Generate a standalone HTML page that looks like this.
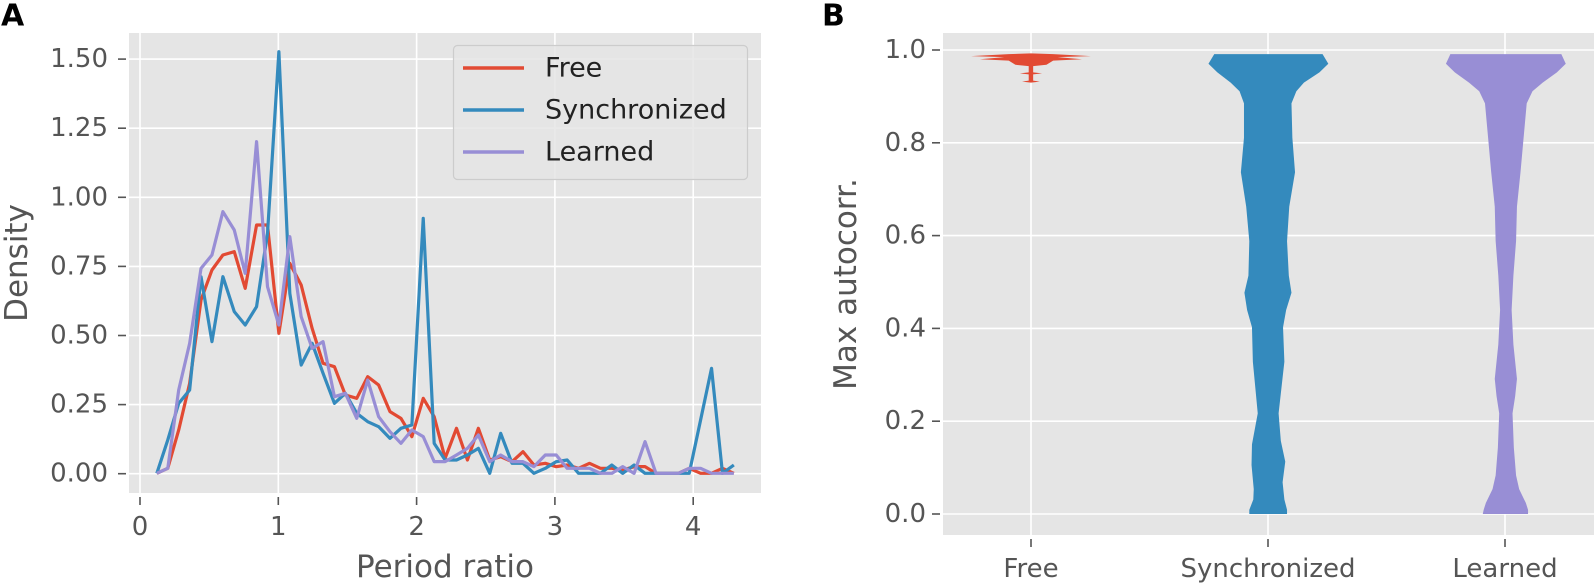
<!DOCTYPE html>
<html><head><meta charset="utf-8"><style>
html,body{margin:0;padding:0;background:#fff;}
svg{display:block;font-family:"DejaVu Sans","Liberation Sans",sans-serif;}
</style></head><body>
<svg width="1596" height="585" viewBox="0 0 1596 585" xmlns="http://www.w3.org/2000/svg">
<!-- Panel A -->
<rect x="129" y="33" width="632" height="460" fill="#e5e5e5"/>
<g stroke="#fff" stroke-width="1.6">
<line x1="140" y1="33" x2="140" y2="493"/><line x1="278.3" y1="33" x2="278.3" y2="493"/><line x1="416.6" y1="33" x2="416.6" y2="493"/><line x1="554.9" y1="33" x2="554.9" y2="493"/><line x1="693.2" y1="33" x2="693.2" y2="493"/>
<line x1="129" y1="473.7" x2="761" y2="473.7"/><line x1="129" y1="404.6" x2="761" y2="404.6"/><line x1="129" y1="335.5" x2="761" y2="335.5"/><line x1="129" y1="266.4" x2="761" y2="266.4"/><line x1="129" y1="197.3" x2="761" y2="197.3"/><line x1="129" y1="128.2" x2="761" y2="128.2"/><line x1="129" y1="59.1" x2="761" y2="59.1"/>
</g>
<g stroke="#555" stroke-width="1.6">
<line x1="118" y1="473.7" x2="126" y2="473.7"/><line x1="118" y1="404.6" x2="126" y2="404.6"/><line x1="118" y1="335.5" x2="126" y2="335.5"/><line x1="118" y1="266.4" x2="126" y2="266.4"/><line x1="118" y1="197.3" x2="126" y2="197.3"/><line x1="118" y1="128.2" x2="126" y2="128.2"/><line x1="118" y1="59.1" x2="126" y2="59.1"/>
<line x1="140" y1="497" x2="140" y2="505"/><line x1="278.3" y1="497" x2="278.3" y2="505"/><line x1="416.6" y1="497" x2="416.6" y2="505"/><line x1="554.9" y1="497" x2="554.9" y2="505"/><line x1="693.2" y1="497" x2="693.2" y2="505"/>
</g>
<g fill="#555" font-size="26" text-anchor="end" dominant-baseline="central">
<text x="108" y="473.7">0.00</text><text x="108" y="404.6">0.25</text><text x="108" y="335.5">0.50</text><text x="108" y="266.4">0.75</text><text x="108" y="197.3">1.00</text><text x="108" y="128.2">1.25</text><text x="108" y="59.1">1.50</text>
</g>
<g fill="#555" font-size="26" text-anchor="middle" dominant-baseline="central">
<text x="140" y="527">0</text><text x="278.3" y="527">1</text><text x="416.6" y="527">2</text><text x="554.9" y="527">3</text><text x="693.2" y="527">4</text>
</g>
<text x="445" y="567" fill="#555" font-size="31" text-anchor="middle" dominant-baseline="central">Period ratio</text>
<text transform="translate(17,263) rotate(-90)" fill="#555" font-size="31" text-anchor="middle" dominant-baseline="central">Density</text>
<g transform="translate(100,0) scale(0.42088,0.33333)" fill="none" stroke-width="3.2" stroke-linejoin="round">
<polyline vector-effect="non-scaling-stroke" stroke="#E24A33" points="135,1420 161,1405 187,1290 213,1150 240,900 266,810 292,765 319,755 345,865 372,675 398,675 425,1000 451,790 478,855 504,985 530,1090 557,1100 583,1185 610,1195 636,1130 662,1155 689,1235 715,1255 741,1310 768,1195 794,1250 820,1375 847,1285 873,1380 899,1285 926,1380 952,1370 979,1385 1005,1355 1031,1395 1058,1390 1084,1400 1110,1395 1137,1405 1163,1390 1189,1405 1216,1405 1242,1410 1269,1400 1295,1400 1321,1420 1348,1420 1374,1420 1400,1405 1427,1420 1453,1420 1479,1405 1506,1420"/>
<polyline vector-effect="non-scaling-stroke" stroke="#348ABD" points="135,1420 161,1320 187,1210 213,1170 240,830 266,1025 292,830 319,935 345,975 372,920 398,700 425,155 451,880 478,1095 504,1030 530,1120 557,1210 583,1180 610,1240 636,1265 662,1280 689,1315 715,1285 741,1275 768,655 794,1330 820,1380 847,1380 873,1365 899,1345 926,1420 952,1300 979,1390 1005,1390 1031,1420 1058,1405 1084,1385 1110,1380 1137,1420 1163,1420 1189,1420 1216,1395 1242,1420 1269,1395 1295,1420 1321,1420 1348,1420 1374,1420 1400,1420 1427,1260 1453,1105 1479,1420 1506,1395"/>
<polyline vector-effect="non-scaling-stroke" stroke="#988ED5" points="135,1420 161,1405 187,1170 213,1030 240,805 266,765 292,635 319,690 345,820 372,425 398,860 425,975 451,710 478,950 504,1045 530,1025 557,1190 583,1180 610,1255 636,1140 662,1250 689,1295 715,1330 741,1290 768,1310 794,1385 820,1385 847,1365 873,1345 899,1305 926,1385 952,1365 979,1385 1005,1385 1031,1400 1058,1365 1084,1365 1110,1405 1137,1405 1163,1405 1189,1420 1216,1420 1242,1400 1269,1420 1295,1325 1321,1420 1348,1420 1374,1420 1400,1405 1427,1405 1453,1420 1479,1420 1506,1420"/>
</g>
<rect x="453.5" y="45.5" width="294" height="134" rx="4" fill="#e5e5e5" fill-opacity="0.85" stroke="#cccccc" stroke-width="1.2"/>
<g stroke-width="3.5">
<line x1="463" y1="68" x2="524" y2="68" stroke="#E24A33"/>
<line x1="463" y1="110" x2="524" y2="110" stroke="#348ABD"/>
<line x1="463" y1="152" x2="524" y2="152" stroke="#988ED5"/>
</g>
<g fill="#222" font-size="27" dominant-baseline="central">
<text x="545" y="68">Free</text><text x="545" y="110">Synchronized</text><text x="545" y="152">Learned</text>
</g>
<text x="1" y="16" font-size="30" font-weight="bold" fill="#000" dominant-baseline="central">A</text>
<!-- Panel B -->
<rect x="943" y="33" width="651" height="502" fill="#e5e5e5"/>
<g stroke="#fff" stroke-width="1.6">
<line x1="1031" y1="33" x2="1031" y2="535"/><line x1="1268" y1="33" x2="1268" y2="535"/><line x1="1505" y1="33" x2="1505" y2="535"/>
<line x1="943" y1="514" x2="1594" y2="514"/><line x1="943" y1="421.2" x2="1594" y2="421.2"/><line x1="943" y1="328.4" x2="1594" y2="328.4"/><line x1="943" y1="235.6" x2="1594" y2="235.6"/><line x1="943" y1="142.8" x2="1594" y2="142.8"/><line x1="943" y1="50" x2="1594" y2="50"/>
</g>
<g stroke="#555" stroke-width="1.6">
<line x1="932" y1="514" x2="940" y2="514"/><line x1="932" y1="421.2" x2="940" y2="421.2"/><line x1="932" y1="328.4" x2="940" y2="328.4"/><line x1="932" y1="235.6" x2="940" y2="235.6"/><line x1="932" y1="142.8" x2="940" y2="142.8"/><line x1="932" y1="50" x2="940" y2="50"/>
<line x1="1031" y1="539" x2="1031" y2="547"/><line x1="1268" y1="539" x2="1268" y2="547"/><line x1="1505" y1="539" x2="1505" y2="547"/>
</g>
<g fill="#555" font-size="26" text-anchor="end" dominant-baseline="central">
<text x="926" y="514">0.0</text><text x="926" y="421.2">0.2</text><text x="926" y="328.4">0.4</text><text x="926" y="235.6">0.6</text><text x="926" y="142.8">0.8</text><text x="926" y="50">1.0</text>
</g>
<g fill="#555" font-size="26" text-anchor="middle" dominant-baseline="central">
<text x="1031" y="569">Free</text><text x="1268" y="569">Synchronized</text><text x="1505" y="569">Learned</text>
</g>
<text transform="translate(846,284) rotate(-90)" fill="#555" font-size="31" text-anchor="middle" dominant-baseline="central">Max autocorr.</text>
<text x="822" y="16" font-size="30" font-weight="bold" fill="#000" dominant-baseline="central">B</text>
<g transform="translate(900,0) scale(0.44385,0.34447)">
<polygon fill="#E24A33" points="295,155 345,157 430,163 355,166 410,172 345,176 330,188 300,192 300,210 320,213 300,216 300,234 315,237 295,240 275,237 290,234 290,216 270,213 290,210 290,192 260,188 245,176 180,172 235,166 160,163 245,157"/>
<polygon fill="#348ABD" points="830,157 952,157 965,185 945,210 910,240 893,265 882,300 884,400 890,500 877,600 872,700 876,800 882,850 870,900 863,950 866,1050 853,1200 858,1280 868,1340 862,1400 866,1450 872,1480 872,1492 787,1492 787,1480 796,1450 797,1420 792,1350 793,1290 806,1200 795,1050 793,950 782,900 776,850 785,800 787,700 780,600 768,500 775,400 775,300 765,265 745,240 715,210 695,185 708,157"/>
<polygon fill="#988ED5" points="1365,157 1490,157 1500,185 1480,210 1448,240 1425,265 1412,300 1405,400 1398,500 1390,600 1388,700 1382,800 1378,900 1382,1000 1390,1100 1386,1150 1380,1200 1383,1300 1388,1380 1395,1420 1410,1460 1415,1480 1415,1492 1313,1492 1315,1480 1320,1460 1335,1420 1342,1380 1347,1300 1350,1200 1344,1150 1340,1100 1348,1000 1352,900 1348,800 1342,700 1340,600 1332,500 1325,400 1318,300 1305,265 1282,240 1250,210 1230,185 1240,157"/>
</g>
</svg>
</body></html>
